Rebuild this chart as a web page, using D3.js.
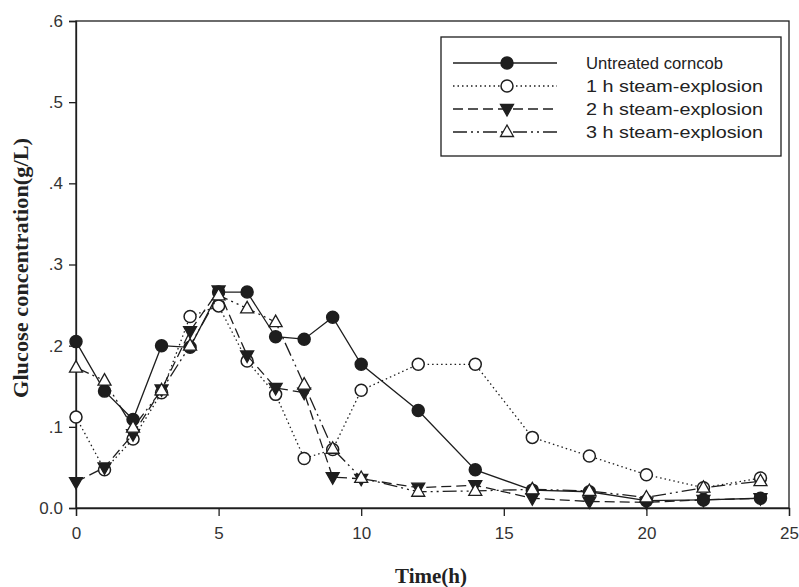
<!DOCTYPE html>
<html>
<head>
<meta charset="utf-8">
<script src="https://cdn.jsdelivr.net/npm/d3@7/dist/d3.min.js"></script>
<style>
  html, body { margin: 0; padding: 0; background: #fff; }
  svg { display: block; }
</style>
</head>
<body>
<svg id="chart" width="799" height="587"></svg>
<script>
// Sampling times (h)
const hours = [0, 1, 2, 3, 4, 5, 6, 7, 8, 9, 10, 12, 14, 16, 18, 20, 22, 24];

// Glucose concentration (g/L) for each pretreatment
const untreated = [0.205, 0.144, 0.109, 0.200, 0.198, 0.266, 0.266, 0.211, 0.208, 0.235, 0.177, 0.120, 0.047, 0.022, 0.020, 0.009, 0.010, 0.012];
const steam1h   = [0.112, 0.047, 0.085, 0.142, 0.236, 0.249, 0.181, 0.140, 0.061, 0.072, 0.145, 0.177, 0.177, 0.087, 0.064, 0.041, 0.025, 0.037];
const steam2h   = [0.032, 0.050, 0.091, 0.146, 0.218, 0.268, 0.188, 0.148, 0.142, 0.038, 0.036, 0.025, 0.028, 0.012, 0.008, 0.007, 0.010, 0.012];
const steam3h   = [0.173, 0.157, 0.099, 0.145, 0.200, 0.262, 0.246, 0.229, 0.152, 0.073, 0.037, 0.020, 0.021, 0.023, 0.021, 0.013, 0.025, 0.033];

const seriesNames = ["Untreated corncob", "1 h steam-explosion", "2 h steam-explosion", "3 h steam-explosion"];

const xTicks = [0, 5, 10, 15, 20, 25];
const yTicks = [0, 0.1, 0.2, 0.3, 0.4, 0.5, 0.6];
const yTickLabels = ["0.0", ".1", ".2", ".3", ".4", ".5", ".6"];

const ink = "#1e1e1e";
const styles = [
  { dash: null,                 marker: "circle",   fill: ink },
  { dash: "1.5,3",              marker: "circle",   fill: "#fff" },
  { dash: "10,5",               marker: "triDown",  fill: ink },
  { dash: "14,4,2,4,2,4",       marker: "triUp",    fill: "#fff" }
];
const seriesValues = [untreated, steam1h, steam2h, steam3h];

const svg = d3.select("#chart");
const plot = { left: 76, top: 21, right: 789, bottom: 508 };

const x = d3.scaleLinear().domain([0, 25]).range([plot.left, plot.right]);
const y = d3.scaleLinear().domain([0, 0.6]).range([plot.bottom, plot.top]);

// Frame around the plotting area
svg.append("rect")
  .attr("x", plot.left).attr("y", plot.top)
  .attr("width", plot.right - plot.left).attr("height", plot.bottom - plot.top)
  .attr("fill", "none").attr("stroke", ink).attr("stroke-width", 1.3);

// Axes
const xAxis = svg.append("g")
  .attr("transform", `translate(0,${plot.bottom})`)
  .call(d3.axisBottom(x).tickValues(xTicks).tickFormat(d3.format("d")).tickSize(8).tickPadding(11));
const yAxis = svg.append("g")
  .attr("transform", `translate(${plot.left},0)`)
  .call(d3.axisLeft(y).tickValues(yTicks).tickFormat((d, i) => yTickLabels[i]).tickSize(7).tickPadding(6));

[xAxis, yAxis].forEach(g => {
  g.select(".domain").attr("stroke", ink).attr("stroke-width", 1.3);
  g.selectAll(".tick line").attr("stroke", ink).attr("stroke-width", 1.3);
  g.selectAll(".tick text")
    .attr("fill", "#333")
    .attr("font-family", "'Liberation Sans', Arial, sans-serif")
    .attr("font-size", 17);
});

// Axis titles
svg.append("text")
  .attr("x", 431).attr("y", 583)
  .attr("text-anchor", "middle")
  .attr("font-family", "'Liberation Serif', 'Times New Roman', serif")
  .attr("font-weight", "bold").attr("font-size", 21)
  .attr("fill", "#222")
  .text("Time(h)");

svg.append("text")
  .attr("transform", "translate(28,268) rotate(-90)")
  .attr("text-anchor", "middle")
  .attr("font-family", "'Liberation Serif', 'Times New Roman', serif")
  .attr("font-weight", "bold").attr("font-size", 21)
  .attr("textLength", 260).attr("lengthAdjust", "spacingAndGlyphs")
  .attr("fill", "#222")
  .text("Glucose concentration(g/L)");

// Marker drawing helper
function drawMarker(sel, kind, fill) {
  if (kind === "circle") {
    sel.append("circle").attr("r", 6)
      .attr("fill", fill).attr("stroke", ink).attr("stroke-width", 1.5);
  } else if (kind === "triDown") {
    sel.append("path").attr("d", "M-6.5,-4.5L6.5,-4.5L0,7Z")
      .attr("fill", fill).attr("stroke", ink).attr("stroke-width", 1.3);
  } else {
    sel.append("path").attr("d", "M0,-7L6.5,4.5L-6.5,4.5Z")
      .attr("fill", fill).attr("stroke", ink).attr("stroke-width", 1.3);
  }
}

const line = d3.line().x(d => x(d[0])).y(d => y(d[1]));

// Lines and markers for each series
seriesValues.forEach((vals, i) => {
  const pts = hours.map((h, j) => [h, vals[j]]);
  const g = svg.append("g").attr("class", "series");
  g.append("path").datum(pts)
    .attr("d", line)
    .attr("fill", "none").attr("stroke", ink).attr("stroke-width", 1.3)
    .attr("stroke-dasharray", styles[i].dash);
  g.selectAll("g.pt").data(pts).join("g")
    .attr("class", "pt")
    .attr("transform", d => `translate(${x(d[0])},${y(d[1])})`)
    .each(function() { drawMarker(d3.select(this), styles[i].marker, styles[i].fill); });
});

// Legend
const legend = svg.append("g");
legend.append("rect")
  .attr("x", 441).attr("y", 37).attr("width", 340).attr("height", 119)
  .attr("fill", "#fff").attr("stroke", ink).attr("stroke-width", 1.3);

const textWidths = [137, 177, 177, 177];
seriesNames.forEach((name, i) => {
  const cy = 63 + i * 23;
  legend.append("line")
    .attr("x1", 453).attr("x2", 557).attr("y1", cy).attr("y2", cy)
    .attr("stroke", ink).attr("stroke-width", 1.3)
    .attr("stroke-dasharray", styles[i].dash);
  const m = legend.append("g").attr("transform", `translate(507,${cy})`);
  drawMarker(m, styles[i].marker, styles[i].fill);
  legend.append("text")
    .attr("x", 586).attr("y", cy + 6)
    .attr("font-family", "'Liberation Sans', Arial, sans-serif")
    .attr("font-size", 17)
    .attr("textLength", textWidths[i]).attr("lengthAdjust", "spacingAndGlyphs")
    .attr("fill", "#222")
    .text(name);
});
</script>
</body>
</html>
